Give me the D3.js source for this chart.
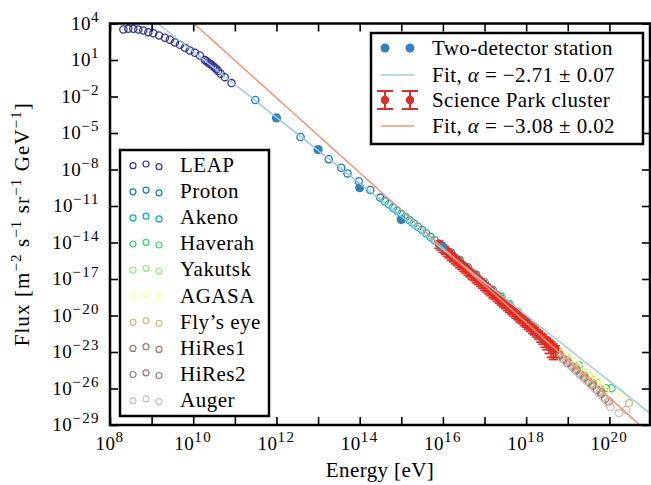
<!DOCTYPE html>
<html>
<head>
<meta charset="utf-8">
<script src="https://cdn.jsdelivr.net/npm/d3@7"></script>
<style>
  body { margin: 0; background: #fff; }
  svg text { font-family: "Liberation Serif", "Times New Roman", serif; fill: #000; }
</style>
</head>
<body>
<svg id="chart" width="651" height="485"></svg>
<script>
// ---- Cosmic-ray flux data: [energy (eV), flux (m^-2 s^-1 sr^-1 GeV^-1)] ----
const leap = [
  [2.09e8, 3.24e3], [2.75e8, 3.63e3], [3.63e8, 3.63e3], [4.79e8, 3.24e3], [6.31e8, 2.69e3],
  [8.32e8, 1.95e3], [1.10e9, 1.58e3], [1.51e9, 1.02e3], [2.09e9, 676], [2.75e9, 457],
  [3.63e9, 275], [4.79e9, 178], [6.31e9, 100], [8.32e9, 60.3], [1.10e10, 38.9],
  [1.45e10, 23.4], [1.91e10, 10.0], [2.09e10, 7.94], [2.29e10, 6.31], [2.51e10, 5.01],
  [2.75e10, 3.98], [3.02e10, 3.02], [3.31e10, 2.29], [3.63e10, 1.74], [3.98e10, 1.26],
  [4.57e10, 0.741], [5.75e10, 0.389], [8.32e10, 0.126]
];
const proton = [
  [3.1e11, 5.2e-3], [3.8e12, 4.7e-6], [1.8e13, 7.1e-8], [3.6e13, 1.4e-8],
  [5.1e13, 4.8e-9], [9.5e13, 1.07e-9], [1.8e14, 2.1e-10], [3.1e14, 4.9e-11]
];
const akeno = [
  [3.98e14, 2.51e-11], [5.01e14, 1.38e-11], [6.31e14, 7.59e-12], [7.94e14, 4.17e-12],
  [1.00e15, 2.29e-12], [1.26e15, 1.23e-12], [1.58e15, 6.76e-13], [2.00e15, 3.63e-13],
  [2.51e15, 1.95e-13], [3.16e15, 1.05e-13], [3.98e15, 5.50e-14], [5.01e15, 2.88e-14],
  [6.31e15, 1.51e-14], [7.94e15, 7.94e-15], [1.00e16, 4.17e-15], [1.58e16, 1.51e-15],
  [2.51e16, 3.89e-16], [3.98e16, 9.33e-17], [6.31e16, 2.29e-17], [1.00e17, 5.50e-18],
  [1.58e17, 1.32e-18], [2.51e17, 3.24e-19], [3.98e17, 7.24e-20], [6.31e17, 1.70e-20],
  [1.00e18, 3.63e-21], [1.58e18, 7.76e-22], [2.51e18, 1.70e-22], [3.98e18, 3.63e-23]
];
const haverah = [
  [2.51e17, 3.63e-19], [3.98e17, 8.71e-20], [6.31e17, 2.04e-20], [1.00e18, 4.57e-21],
  [1.58e18, 9.77e-22], [2.51e18, 1.91e-22], [3.98e18, 4.07e-23], [6.31e18, 1.12e-23],
  [1.00e19, 3.39e-24], [1.86e19, 8.32e-25], [3.16e19, 1.23e-25], [5.01e19, 3.31e-26],
  [8.32e19, 1.07e-26], [1.12e20, 1.07e-26]
];
const yakutsk = [
  [1.00e17, 4.37e-18], [1.58e17, 1.05e-18], [2.51e17, 2.63e-19], [3.98e17, 6.31e-20],
  [6.31e17, 1.51e-20], [1.00e18, 3.55e-21], [1.58e18, 8.32e-22], [2.51e18, 1.91e-22],
  [3.98e18, 4.79e-23], [6.31e18, 1.26e-23], [1.00e19, 3.16e-24], [1.58e19, 7.94e-25],
  [2.51e19, 2.00e-25], [3.98e19, 5.01e-26]
];
const agasa = [
  [3.16e18, 9.33e-23], [3.98e18, 5.01e-23], [5.01e18, 2.51e-23], [6.31e18, 1.32e-23],
  [7.94e18, 7.08e-24], [1.00e19, 3.80e-24], [1.26e19, 1.91e-24], [1.58e19, 9.55e-25],
  [2.00e19, 5.01e-25], [2.51e19, 2.51e-25], [3.16e19, 1.32e-25], [3.98e19, 6.92e-26],
  [5.01e19, 3.55e-26], [6.31e19, 1.58e-26], [7.94e19, 7.94e-27], [2.00e20, 3.47e-27]
];
const flysEye = [
  [2.51e17, 2.00e-19], [3.98e17, 4.68e-20], [6.31e17, 1.12e-20], [1.00e18, 2.63e-21],
  [1.58e18, 6.03e-22], [2.51e18, 1.38e-22], [3.98e18, 3.16e-23], [6.31e18, 7.94e-24],
  [1.00e19, 2.09e-24], [1.58e19, 5.01e-25], [2.51e19, 1.12e-25], [3.98e19, 2.82e-26],
  [6.31e19, 7.08e-27], [2.95e20, 6.31e-28]
];
const hires1 = [
  [3.16e18, 4.68e-23], [3.98e18, 2.09e-23], [5.01e18, 1.05e-23], [6.31e18, 5.01e-24],
  [7.94e18, 2.51e-24], [1.00e19, 1.26e-24], [1.26e19, 6.31e-25], [1.58e19, 3.02e-25],
  [2.00e19, 1.51e-25], [2.51e19, 7.59e-26], [3.16e19, 3.55e-26], [3.98e19, 1.66e-26],
  [5.01e19, 7.94e-27], [6.31e19, 3.55e-27], [7.94e19, 1.41e-27], [9.77e19, 8.51e-28]
];
const hires2 = [
  [1.58e17, 5.25e-19], [2.51e17, 1.26e-19], [3.98e17, 3.02e-20], [6.31e17, 7.41e-21],
  [1.00e18, 1.78e-21], [1.58e18, 4.17e-22], [2.51e18, 1.00e-22], [3.98e18, 2.40e-23],
  [6.31e18, 6.03e-24], [1.00e19, 1.41e-24], [1.58e19, 3.55e-25], [2.51e19, 7.94e-26],
  [3.98e19, 1.91e-26], [6.31e19, 5.01e-27]
];
const auger = [
  [2.82e18, 6.61e-23], [3.55e18, 2.88e-23], [4.47e18, 1.29e-23], [5.62e18, 6.31e-24],
  [7.08e18, 3.09e-24], [8.91e18, 1.58e-24], [1.12e19, 8.51e-25], [1.41e19, 4.17e-25],
  [1.78e19, 2.04e-25], [2.24e19, 9.33e-26], [2.82e19, 4.37e-26], [3.55e19, 2.04e-26],
  [4.47e19, 8.91e-27], [5.62e19, 3.98e-27], [7.08e19, 1.82e-27], [8.91e19, 7.94e-28],
  [1.07e20, 2.95e-28], [1.70e20, 9.55e-29], [2.51e20, 1.70e-28]
];

// Two-detector station measurement
const stationEnergy = [1e12, 1e13, 1e14, 1e15, 1e16];
const stationFlux   = [1.74e-4, 4.3e-7, 3.2e-10, 7.6e-13, 4.3e-15];

// Science Park cluster measurement, with relative flux uncertainty
const parkEnergy = [
  7.94e15, 8.91e15, 1.00e16, 1.12e16, 1.26e16, 1.41e16, 1.58e16, 1.78e16, 2.00e16,
  2.24e16, 2.51e16, 2.82e16, 3.16e16, 3.55e16, 3.98e16, 4.47e16, 5.01e16, 5.62e16, 6.31e16,
  7.08e16, 7.94e16, 8.91e16, 1.00e17, 1.12e17, 1.26e17, 1.41e17, 1.58e17, 1.78e17, 2.00e17,
  2.24e17, 2.51e17, 2.82e17, 3.16e17, 3.55e17, 3.98e17, 4.47e17, 5.01e17, 5.62e17, 6.31e17,
  7.08e17, 7.94e17, 8.91e17, 1.00e18, 1.12e18, 1.26e18, 1.41e18, 1.58e18, 1.78e18, 2.00e18,
  2.24e18, 2.51e18, 2.82e18, 3.16e18, 3.55e18, 3.98e18, 4.47e18, 5.01e18
];
const parkFlux = [
  8.13e-15, 5.75e-15, 3.89e-15, 2.82e-15, 1.82e-15, 1.35e-15, 8.91e-16, 6.46e-16, 4.37e-16,
  3.16e-16, 2.09e-16, 1.51e-16, 1.05e-16, 7.76e-17, 5.01e-17, 3.72e-17, 2.51e-17, 1.86e-17, 1.23e-17,
  8.91e-18, 6.17e-18, 4.47e-18, 3.02e-18, 2.19e-18, 1.48e-18, 1.07e-18, 7.08e-19, 5.25e-19, 3.63e-19,
  2.57e-19, 1.78e-19, 1.26e-19, 9.12e-20, 6.31e-20, 4.47e-20, 3.09e-20, 2.19e-20, 1.51e-20, 1.12e-20,
  7.41e-21, 5.37e-21, 3.63e-21, 2.69e-21, 1.82e-21, 1.29e-21, 8.71e-22, 6.46e-22, 4.37e-22, 3.16e-22,
  2.04e-22, 1.58e-22, 1.02e-22, 7.59e-23, 5.01e-23, 3.63e-23, 2.40e-23, 1.78e-23
];
const parkRelErr = [
  0.6, 0.6, 0.6, 0.6, 0.6, 0.6, 0.6, 0.6, 0.6,
  0.6, 0.6, 0.6, 0.6, 0.6, 0.6, 0.6, 0.6, 0.6, 0.6,
  0.6, 0.6, 0.6, 0.6, 0.6, 0.6, 0.6, 0.6, 0.6, 0.6,
  0.6, 0.6, 0.6, 0.6, 0.6, 0.6, 0.6, 0.6, 0.6, 0.6,
  0.6, 0.6, 0.6, 0.6, 0.6, 0.6, 0.6, 0.6, 0.62, 0.64,
  0.68, 0.72, 0.76, 0.8, 0.85, 0.9, 0.9, 0.8
];

// Power-law fits: flux = norm * E^index
const stationFit = { norm: 6.3e28, index: -2.71 };
const parkFit    = { norm: 7.1e34, index: -3.08 };

// Catalogue series and their colours
const seriesNames = ["LEAP", "Proton", "Akeno", "Haverah", "Yakutsk", "AGASA", "Fly\u2019s eye", "HiRes1", "HiRes2", "Auger"];
const seriesData = [leap, proton, akeno, haverah, yakutsk, agasa, flysEye, hires1, hires2, auger];
const seriesColors = ["#333399", "#1177dd", "#00b3b3", "#33d670", "#99eb85", "#ffff99", "#ccbe7d", "#997c62", "#997c76", "#ccbebb"];

const xTicks = [1e8, 1e9, 1e10, 1e11, 1e12, 1e13, 1e14, 1e15, 1e16, 1e17, 1e18, 1e19, 1e20, 1e21];
const xLabelExps = [8, 10, 12, 14, 16, 18, 20];
const yTicks = [1e4, 1e1, 1e-2, 1e-5, 1e-8, 1e-11, 1e-14, 1e-17, 1e-20, 1e-23, 1e-26, 1e-29];
const yLabelExps = [4, 1, -2, -5, -8, -11, -14, -17, -20, -23, -26, -29];

// ---- Layout ----
const L = 110, R = 651, T = 23.5, B = 425;
const svg = d3.select("#chart");
svg.append("rect").attr("width", 651).attr("height", 485).attr("fill", "#fff");

const x = d3.scaleLog().domain([1e8, 1e21]).range([L, R]);
const y = d3.scaleLog().domain([1e-29, 1e4]).range([B, T]);

svg.append("defs").append("clipPath").attr("id", "plotClip")
  .append("rect").attr("x", L).attr("y", T).attr("width", R - L).attr("height", B - T);

const minus = s => String(s).replace("-", "\u2212");

// ---- Catalogue data (open circles) ----
const dataG = svg.append("g").attr("clip-path", "url(#plotClip)");
seriesData.forEach((d, i) => {
  dataG.append("g").selectAll("circle").data(d).join("circle")
    .attr("cx", p => x(p[0])).attr("cy", p => y(p[1])).attr("r", 3.6)
    .attr("fill", "none").attr("stroke", seriesColors[i]).attr("stroke-width", 1.3);
});

// ---- Science Park cluster with error bars ----
const red = "#de2d26";
const cap = 4.5;
const parkG = dataG.append("g").attr("stroke", red).attr("stroke-width", 1.7);
parkEnergy.forEach((e, i) => {
  const f = parkFlux[i], s = parkRelErr[i] * f;
  const cx = x(e), y0 = y(f - s), y1 = y(f + s);
  parkG.append("line").attr("x1", cx).attr("x2", cx).attr("y1", y0).attr("y2", y1);
  parkG.append("line").attr("x1", cx - cap).attr("x2", cx + cap).attr("y1", y0).attr("y2", y0);
  parkG.append("line").attr("x1", cx - cap).attr("x2", cx + cap).attr("y1", y1).attr("y2", y1);
});
dataG.append("g").selectAll("circle").data(parkEnergy).join("circle")
  .attr("cx", e => x(e)).attr("cy", (e, i) => y(parkFlux[i])).attr("r", 4.2).attr("fill", red);

// ---- Two-detector station ----
dataG.append("g").selectAll("circle").data(stationEnergy).join("circle")
  .attr("cx", e => x(e)).attr("cy", (e, i) => y(stationFlux[i])).attr("r", 4.6)
  .attr("fill", "#3182bd");

// ---- Fit lines ----
const fitEnergies = d3.range(8, 21.01, 0.25).map(p => Math.pow(10, p));
const fitLine = fit => d3.line().x(e => x(e)).y(e => y(fit.norm * Math.pow(e, fit.index)))(fitEnergies);
dataG.append("path").attr("d", fitLine(stationFit)).attr("fill", "none").attr("stroke", "#9ecae1").attr("stroke-width", 1.5);
dataG.append("path").attr("d", fitLine(parkFit)).attr("fill", "none").attr("stroke", "#fc9272").attr("stroke-width", 1.5);

// ---- Axes (ticks point inwards on all four sides) ----
const FR = 650;
const tickStyle = g => { g.select(".domain").remove(); g.selectAll("line").attr("stroke-width", 1.6); g.selectAll("text").remove(); };
svg.append("g").attr("transform", `translate(0,${B})`).call(d3.axisBottom(x).tickValues(xTicks).tickSize(-8)).call(tickStyle);
svg.append("g").attr("transform", `translate(0,${T})`).call(d3.axisTop(x).tickValues(xTicks).tickSize(-8)).call(tickStyle);
svg.append("g").attr("transform", `translate(${L},0)`).call(d3.axisLeft(y).tickValues(yTicks).tickSize(-8)).call(tickStyle);
svg.append("g").attr("transform", `translate(${FR},0)`).call(d3.axisRight(y).tickValues(yTicks).tickSize(-8)).call(tickStyle);
svg.append("rect").attr("x", L).attr("y", T).attr("width", FR - L).attr("height", B - T)
  .attr("fill", "none").attr("stroke", "#000").attr("stroke-width", 2.5);

// Power-of-ten tick labels
const powLabel = (sel, exp, size, supSize, rise) => {
  sel.append("tspan").attr("font-size", size).attr("letter-spacing", 0.5).text("10");
  sel.append("tspan").attr("font-size", supSize).attr("baseline-shift", rise).attr("letter-spacing", 1.4).text(minus(exp));
};
xLabelExps.forEach(p => {
  const t = svg.append("text").attr("x", x(Math.pow(10, p))).attr("y", 450).attr("text-anchor", "middle");
  powLabel(t, p, 19, 15, 8);
});
yLabelExps.forEach(p => {
  const t = svg.append("text").attr("x", 100).attr("y", y(Math.pow(10, p)) + 6).attr("text-anchor", "end");
  powLabel(t, p, 19, 15, 8);
});

// Axis titles
svg.append("text").attr("x", (L + FR) / 2).attr("y", 477).attr("text-anchor", "middle")
  .attr("font-size", 21).attr("letter-spacing", 0.4).text("Energy [eV]");
const yt = svg.append("text").attr("transform", `translate(29,${(T + B) / 2}) rotate(-90)`)
  .attr("text-anchor", "middle").attr("font-size", 21).attr("letter-spacing", 1.1);
[["Flux [m", "\u22122"], [" s", "\u22121"], [" sr", "\u22121"], [" GeV", "\u22121"], ["]", null]].forEach(([base, sup]) => {
  yt.append("tspan").text(base);
  if (sup) yt.append("tspan").attr("font-size", 15).attr("baseline-shift", 8).text(sup);
});

// ---- Legend: catalogue series ----
const lg = svg.append("g");
lg.append("rect").attr("x", 120).attr("y", 150).attr("width", 149).attr("height", 266)
  .attr("fill", "#fff").attr("stroke", "#000").attr("stroke-width", 2.5);
const markerX = [133, 146, 159], markerDy = [0.7, -1, 1.7];
seriesNames.forEach((name, i) => {
  const cy = 165 + i * 26.1;
  markerX.forEach((mx, k) => lg.append("circle").attr("cx", mx).attr("cy", cy + markerDy[k]).attr("r", 3)
    .attr("fill", "none").attr("stroke", seriesColors[i]).attr("stroke-width", 1.2));
  lg.append("text").attr("x", 180).attr("y", cy + 7).attr("font-size", 21).attr("letter-spacing", 0.5).text(name);
});

// ---- Legend: measurements and fits ----
const lg2 = svg.append("g");
lg2.append("rect").attr("x", 371).attr("y", 33).attr("width", 272).attr("height", 111)
  .attr("fill", "#fff").attr("stroke", "#000").attr("stroke-width", 2.5);
const rowY = [48, 75, 100, 126];
[385, 410].forEach(mx => lg2.append("circle").attr("cx", mx).attr("cy", rowY[0]).attr("r", 4.5).attr("fill", "#3182bd"));
lg2.append("line").attr("x1", 381).attr("x2", 414).attr("y1", rowY[1]).attr("y2", rowY[1]).attr("stroke", "#9ecae1").attr("stroke-width", 1.5);
[385, 410].forEach(mx => {
  const g = lg2.append("g").attr("stroke", red).attr("stroke-width", 2);
  g.append("line").attr("x1", mx).attr("x2", mx).attr("y1", rowY[2] - 9).attr("y2", rowY[2] + 9);
  g.append("line").attr("x1", mx - 8).attr("x2", mx + 8).attr("y1", rowY[2] - 9).attr("y2", rowY[2] - 9);
  g.append("line").attr("x1", mx - 8).attr("x2", mx + 8).attr("y1", rowY[2] + 9).attr("y2", rowY[2] + 9);
  lg2.append("circle").attr("cx", mx).attr("cy", rowY[2]).attr("r", 4.2).attr("fill", red);
});
lg2.append("line").attr("x1", 381).attr("x2", 414).attr("y1", rowY[3]).attr("y2", rowY[3]).attr("stroke", "#fc9272").attr("stroke-width", 1.5);

const fitText = (ty, val, err) => {
  const t = lg2.append("text").attr("x", 432).attr("y", ty + 6.5).attr("font-size", 21).attr("letter-spacing", 0.4);
  t.append("tspan").text("Fit, ");
  t.append("tspan").attr("font-style", "italic").text("\u03b1");
  t.append("tspan").text(" = \u2212" + val + " \u00b1 " + err);
};
lg2.append("text").attr("x", 432).attr("y", rowY[0] + 6.5).attr("font-size", 21).attr("letter-spacing", 0.4).text("Two-detector station");
fitText(rowY[1], "2.71", "0.07");
lg2.append("text").attr("x", 432).attr("y", rowY[2] + 6.5).attr("font-size", 21).attr("letter-spacing", 0.4).text("Science Park cluster");
fitText(rowY[3], "3.08", "0.02");
</script>
</body>
</html>
